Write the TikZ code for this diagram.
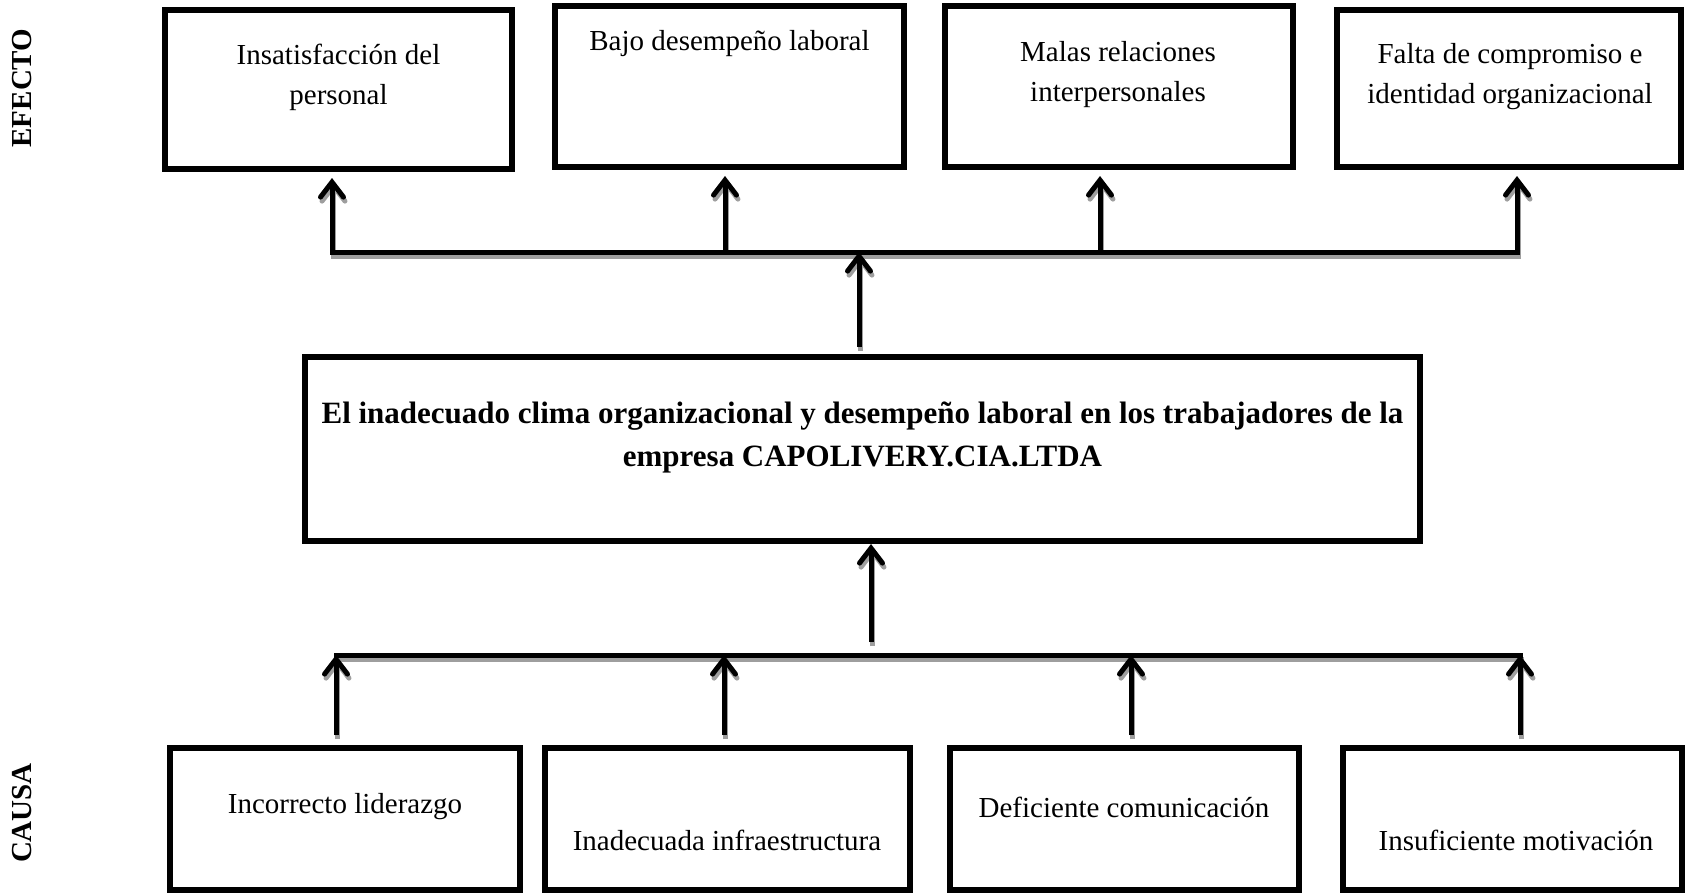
\documentclass[tikz,border=0pt]{standalone}
\usepackage{fontspec}
\setmainfont{Liberation Serif}
\usetikzlibrary{arrows.meta}

\tikzset{
  box/.style={draw, line width=6pt, inner sep=0pt},
  txt/.style={font=\fontsize{29}{40}\selectfont, align=center, inner sep=0pt},
  arr/.style={line width=5pt, -{Straight Barb[length=15pt, width=23pt, line cap=round]}},
  bar/.style={line width=5pt, line cap=rect}
}

\begin{document}
\begin{tikzpicture}[x=1pt, y=-1pt]
\useasboundingbox (0,0) rectangle (1686,895);

% efectos
\node[box, minimum width=347pt, minimum height=159pt] (e1) at (338.5,89.5) {};
\node[box, minimum width=349pt, minimum height=161pt] (e2) at (729.5,86.5) {};
\node[box, minimum width=348pt, minimum height=161pt] (e3) at (1119,86.5) {};
\node[box, minimum width=344pt, minimum height=157pt] (e4) at (1509,88.5) {};

\node[txt] (te1) at (338.5,77) {Insatisfacción del\\personal};
\node[txt, anchor=base] (te2) at (729.5,50) {Bajo desempeño laboral};
\node[txt] (te3) at (1118,75) {Malas relaciones\\interpersonales};
\node[txt] (te4) at (1510,77) {Falta de compromiso e\\identidad organizacional};

% problema
\node[box, minimum width=1115pt, minimum height=184pt] (m) at (862.5,449) {};
\node[txt, font=\fontsize{31}{43}\selectfont\bfseries] (tm) at (862.5,437)
  {El inadecuado clima organizacional y desempeño laboral en los trabajadores de la\\empresa CAPOLIVERY.CIA.LTDA};

% causas
\node[box, minimum width=350pt, minimum height=142pt] (c1) at (345,819) {};
\node[box, minimum width=365pt, minimum height=142pt] (c2) at (727.5,819) {};
\node[box, minimum width=349pt, minimum height=142pt] (c3) at (1124.5,819) {};
\node[box, minimum width=339pt, minimum height=142pt] (c4) at (1512.5,819) {};

\node[txt, anchor=base] (tc1) at (345,813) {Incorrecto liderazgo};
\node[txt, anchor=base] (tc2) at (727,850) {Inadecuada infraestructura};
\node[txt, anchor=base] (tc3) at (1124,817) {Deficiente comunicación};
\node[txt, anchor=base] (tc4) at (1516,850) {Insuficiente motivación};

\node[txt, font=\fontsize{29}{37}\selectfont\bfseries, rotate=90] (lef) at (22,88) {EFECTO};
\node[txt, font=\fontsize{29}{37}\selectfont\bfseries, rotate=90] (lca) at (22,813) {CAUSA};

% puntos sobre las barras
\coordinate (j1) at (332,252);
\coordinate (j2) at (725,252);
\coordinate (j3) at (1100,252);
\coordinate (j4) at (1517,252);
\coordinate (jm) at (859,252);
\coordinate (k1) at (336,655);
\coordinate (k2) at (724,655);
\coordinate (k3) at (1131,655);
\coordinate (k4) at (1520,655);
\coordinate (km) at (871,655);

% flechas con sombra gris
\foreach \col/\dx/\dy in {black!38/1.5/-4, black/0/0}{
\begin{scope}[color=\col, transform canvas={shift={(\dx pt,\dy pt)}}]
\draw[bar] (j1) -- (j4);
\draw[bar] (k1) -- (k4);
\draw[arr, shorten >=6pt] (j1) -- (j1 |- e1.south);
\draw[arr, shorten >=6pt] (j2) -- (j2 |- e2.south);
\draw[arr, shorten >=6pt] (j3) -- (j3 |- e3.south);
\draw[arr, shorten >=6pt] (j4) -- (j4 |- e4.south);
\draw[arr, shorten <=7pt] (jm |- m.north) -- (jm);
\draw[arr, shorten <=13pt] (km) -- (km |- m.south);
\draw[arr, shorten <=10pt] (k1 |- c1.north) -- (k1);
\draw[arr, shorten <=10pt] (k2 |- c2.north) -- (k2);
\draw[arr, shorten <=10pt] (k3 |- c3.north) -- (k3);
\draw[arr, shorten <=10pt] (k4 |- c4.north) -- (k4);
\end{scope}
}
\end{tikzpicture}
\end{document}
